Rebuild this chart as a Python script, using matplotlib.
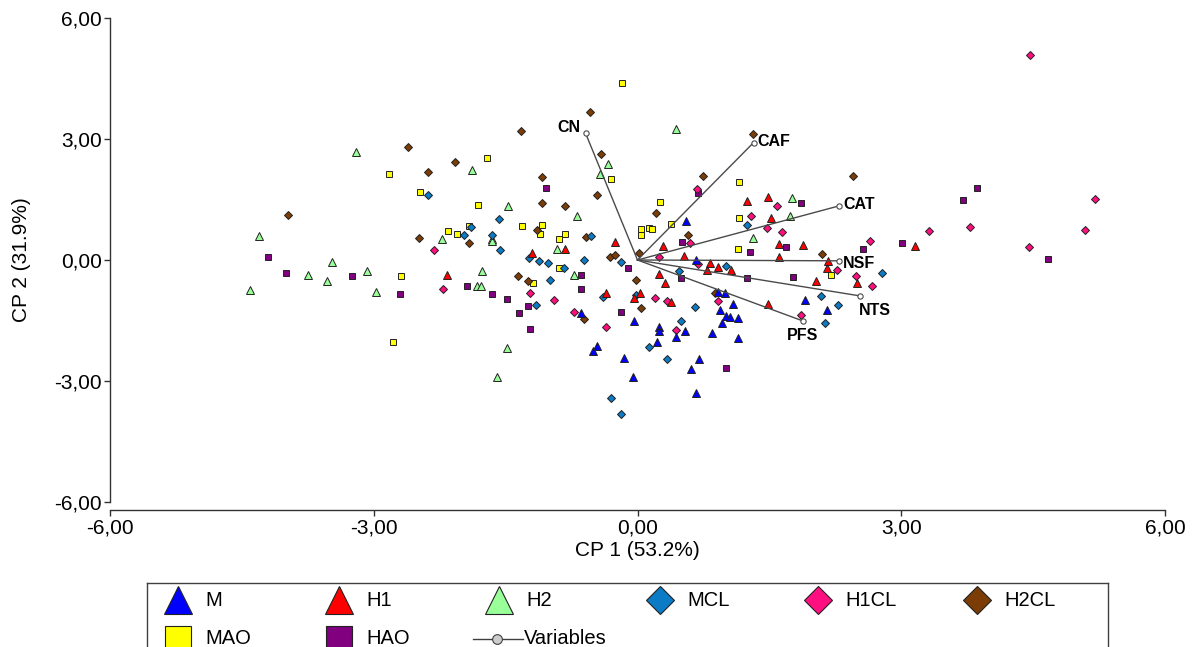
import matplotlib
matplotlib.use("Agg")
import matplotlib.pyplot as plt

plt.rcParams['font.family'] = ['Liberation Sans', 'DejaVu Sans']

# PCA scores per group (CP1, CP2)
m_x = [0.55, 0.66, -0.64, -0.04, -0.46, -0.51, -0.15, -0.05, 0.92, 0.99, 1.09, 0.94, 1.01, 1.05,
       1.14, 0.96, 1.91, 2.16, 0.25, 0.24, 0.54, 0.44, 0.85, 1.14, 0.22, 0.70, 0.61, 0.67]
m_y = [0.97, 0.00, -1.31, -1.50, -2.13, -2.26, -2.44, -2.90, -0.79, -0.81, -1.08, -1.24, -1.38, -1.42,
       -1.45, -1.56, -0.99, -1.24, -1.65, -1.76, -1.75, -1.90, -1.80, -1.93, -2.03, -2.46, -2.71, -3.29]

h1_x = [-0.83, -0.26, -1.20, -2.17, -0.36, -0.04, 0.03, 0.29, 0.53, 0.83, 0.91, 1.25, 1.49, 1.52,
        1.61, 1.88, 1.61, 2.17, 0.79, 1.06, 2.16, 2.50, 0.25, 0.31, 2.03, 0.38, 1.48, 3.16]
h1_y = [0.28, 0.45, 0.17, -0.36, -0.81, -0.93, -0.83, 0.35, 0.10, -0.07, -0.17, 1.47, 1.55, 1.03,
        0.40, 0.37, 0.08, -0.02, -0.25, -0.26, -0.20, -0.58, -0.35, -0.58, -0.51, -1.03, -1.10, 0.35]

h2_x = [-3.20, -4.31, -3.75, -3.47, -3.53, -3.08, -2.97, -4.41, -0.33, -0.43, -1.88, -1.47, -0.69, -2.22,
        -1.66, -1.65, -0.92, -0.72, -1.77, -1.83, -1.78, -1.49, -1.60, 0.44, 1.76, 1.74, 1.31]
h2_y = [2.67, 0.60, -0.36, -0.06, -0.52, -0.28, -0.80, -0.74, 2.37, 2.12, 2.23, 1.34, 1.09, 0.51,
        0.51, 0.47, 0.27, -0.36, -0.27, -0.64, -0.64, -2.17, -2.90, 3.24, 1.53, 1.09, 0.55]

mcl_x = [-2.38, -1.57, -1.89, -1.97, -1.66, -0.53, -0.19, -1.56, -1.23, -1.12, -1.02, -0.61, -0.84, -1.00,
         -1.16, -0.39, -0.02, 0.13, -0.30, -0.19, 1.01, 1.24, 0.47, 2.09, 0.65, 2.28, 2.13, 0.49, 0.33, 2.78]
mcl_y = [1.60, 1.02, 0.82, 0.63, 0.63, 0.60, -0.06, 0.25, 0.06, -0.03, -0.08, 0.00, -0.19, -0.50,
         -1.12, -0.91, -0.87, -2.15, -3.41, -3.81, -0.14, 0.88, -0.27, -0.89, -1.17, -1.12, -1.56, -1.51, -2.46, -0.33]

h1cl_x = [-2.31, -2.21, -1.22, -0.95, -0.72, -0.36, 0.68, 0.60, 0.24, 0.69, 1.59, 1.29, 1.47, 1.64, 2.27,
          2.48, 0.20, 0.34, 0.91, 1.86, 0.44, 4.47, 5.20, 3.31, 3.78, 5.09, 4.45, 2.64, 2.67]
h1cl_y = [0.25, -0.72, -0.82, -0.98, -1.28, -1.65, 1.75, 0.43, 0.08, -0.11, 1.34, 1.08, 0.80, 0.69, -0.25,
          -0.40, -0.95, -1.01, -1.02, -1.36, -1.74, 5.08, 1.52, 0.71, 0.81, 0.74, 0.32, 0.46, -0.64]

h2cl_x = [-2.61, -2.38, -3.98, -2.48, -0.54, -1.33, -0.42, -0.46, -2.08, -1.09, -1.09, -0.82, -1.92, -1.14, -0.59,
          -0.31, -0.26, 0.02, -1.36, -1.24, -0.61, 0.04, -0.02, 1.31, 2.45, 0.75, 0.21, 0.57, 2.10, 0.88]
h2cl_y = [2.81, 2.17, 1.12, 0.54, 3.68, 3.19, 2.62, 1.61, 2.44, 2.05, 1.42, 1.34, 0.43, 0.74, 0.58,
          0.08, 0.13, 0.17, -0.40, -0.52, -1.46, -1.20, -0.50, 3.13, 2.08, 2.08, 1.16, 0.62, 0.14, -0.83]

mao_x = [-2.83, -2.47, -2.69, -2.78, -0.18, -1.71, -0.30, -1.81, -2.15, -2.05, -1.92, -1.31, -1.09, -1.11,
         -0.89, -0.83, 0.04, 0.04, 0.13, -0.89, -1.19, 1.15, 0.26, 0.38, 0.17, 1.16, 1.14, 2.20]
mao_y = [2.12, 1.68, -0.39, -2.03, 4.38, 2.53, 2.02, 1.36, 0.72, 0.65, 0.84, 0.84, 0.87, 0.65,
         0.51, 0.65, 0.76, 0.62, 0.79, -0.21, -0.56, 1.94, 1.44, 0.89, 0.78, 1.03, 0.27, -0.38]

hao_x = [-4.20, -4.00, -3.25, -2.70, -1.04, -0.11, -0.64, -0.64, -1.94, -1.66, -1.49, -1.24, -1.35, -1.22, -0.19,
         0.69, 0.51, 1.86, 1.28, 1.69, 0.50, 1.25, 1.77, 1.01, 3.86, 3.70, 3.01, 4.67, 2.56]
hao_y = [0.07, -0.31, -0.39, -0.85, 1.79, -0.21, -0.37, -0.73, -0.64, -0.84, -0.97, -1.13, -1.32, -1.70, -1.30,
         1.67, 0.45, 1.42, 0.21, 0.32, -0.45, -0.45, -0.41, -2.69, 1.79, 1.49, 0.43, 0.02, 0.27]

# variable loadings (vector tips)
var_names = ["CN", "CAF", "CAT", "NSF", "NTS", "PFS"]
var_x = [-0.59, 1.32, 2.29, 2.29, 2.53, 1.88]
var_y = [3.14, 2.91, 1.34, -0.02, -0.89, -1.51]

groups = [
    ("MAO", mao_x, mao_y, 's', '#FFFF00', 4.8),
    ("HAO", hao_x, hao_y, 's', '#800080', 4.8),
    ("H2", h2_x, h2_y, '^', '#99FF99', 6.3),
    ("H2CL", h2cl_x, h2cl_y, 'D', '#7B3D05', 4.4),
    ("MCL", mcl_x, mcl_y, 'D', '#0C7BC6', 4.4),
    ("H1CL", h1cl_x, h1cl_y, 'D', '#FF0F80', 4.4),
    ("H1", h1_x, h1_y, '^', '#FF0000', 6.3),
    ("M", m_x, m_y, '^', '#0000FF', 6.3),
]

W, H = 1195, 647
fig = plt.figure(figsize=(W / 100, H / 100), dpi=100)
ax = fig.add_axes([110 / W, 1 - 502 / H, (1165 - 110) / W, (502 - 18) / H])

for name, xs, ys, mk, col, ms in groups:
    ax.plot(xs, ys, linestyle='none', marker=mk, markersize=ms, markerfacecolor=col,
            markeredgecolor='#222222', markeredgewidth=0.7, zorder=3)

# biplot vectors
for name, vx, vy in zip(var_names, var_x, var_y):
    ax.plot([0, vx], [0, vy], color='#4a4a4a', lw=1.0, zorder=4)
    ax.plot(vx, vy, marker='o', markersize=3.8, markerfacecolor='white',
            markeredgecolor='#4a4a4a', markeredgewidth=0.8, zorder=5)

label_off = {
    "CN": ((-4, 4), 'right', 'center'),
    "CAF": ((3, 1), 'left', 'center'),
    "CAT": ((3, 1), 'left', 'center'),
    "NSF": ((3, -2), 'left', 'center'),
    "NTS": ((-1, -5), 'left', 'top'),
    "PFS": ((0, -5), 'center', 'top'),
}
for name, vx, vy in zip(var_names, var_x, var_y):
    off, ha, va = label_off[name]
    ax.annotate(name, (vx, vy), xytext=off, textcoords='offset points',
                ha=ha, va=va, fontsize=11.5, fontweight='bold', zorder=6)

ax.set_xlim(-6, 6)
ax.set_ylim(-6, 6)
ticks = [-6, -3, 0, 3, 6]
tick_labels = [f"{t:.2f}".replace('.', ',') for t in ticks]
ax.set_xticks(ticks)
ax.set_xticklabels(tick_labels)
ax.set_yticks(ticks)
ax.set_yticklabels(tick_labels)
ax.tick_params(labelsize=15, length=4, width=1, color='#333333', pad=2)
ax.spines['top'].set_visible(False)
ax.spines['right'].set_visible(False)
ax.spines['bottom'].set_position(('outward', 6))
for s in ('left', 'bottom'):
    ax.spines[s].set_color('#333333')
    ax.spines[s].set_linewidth(1.0)

fig.text(637 / W, 1 - 551 / H, "CP 1 (53.2%)", ha='center', va='center', fontsize=15)
fig.text(22 / W, 1 - 260 / H, "CP 2 (31.9%)", ha='center', va='center', fontsize=15, rotation=90)

# legend box, drawn in pixel coordinates
lax = fig.add_axes([147 / W, -13 / H, (1108 - 147) / W, (660 - 583) / H])
lax.set_xlim(147, 1108)
lax.set_ylim(660, 583)
lax.set_xticks([])
lax.set_yticks([])
for s in lax.spines.values():
    s.set_color('#404040')
    s.set_linewidth(1.0)

legend_items = [
    ("M", '^', '#0000FF', 20, 178, 600),
    ("H1", '^', '#FF0000', 20, 339, 600),
    ("H2", '^', '#99FF99', 20, 499, 600),
    ("MCL", 'D', '#0C7BC6', 14, 660, 600),
    ("H1CL", 'D', '#FF0F80', 14, 818, 600),
    ("H2CL", 'D', '#7B3D05', 14, 977, 600),
    ("MAO", 's', '#FFFF00', 19, 178, 639),
    ("HAO", 's', '#800080', 19, 339, 639),
]
for name, mk, col, ms, lx, ly in legend_items:
    lax.plot(lx, ly, marker=mk, markersize=ms, markerfacecolor=col,
             markeredgecolor='#222222', markeredgewidth=0.8, clip_on=False)
    lax.text(lx + 27, ly, name, ha='left', va='center', fontsize=14.5)
lax.plot([473, 523], [639, 639], color='#404040', lw=1.0)
lax.plot(497, 639, marker='o', markersize=7, markerfacecolor='#cccccc',
         markeredgecolor='#404040', markeredgewidth=0.8)
lax.text(524, 639, "Variables", ha='left', va='center', fontsize=14.5)

fig.savefig("out.png", dpi=100)
